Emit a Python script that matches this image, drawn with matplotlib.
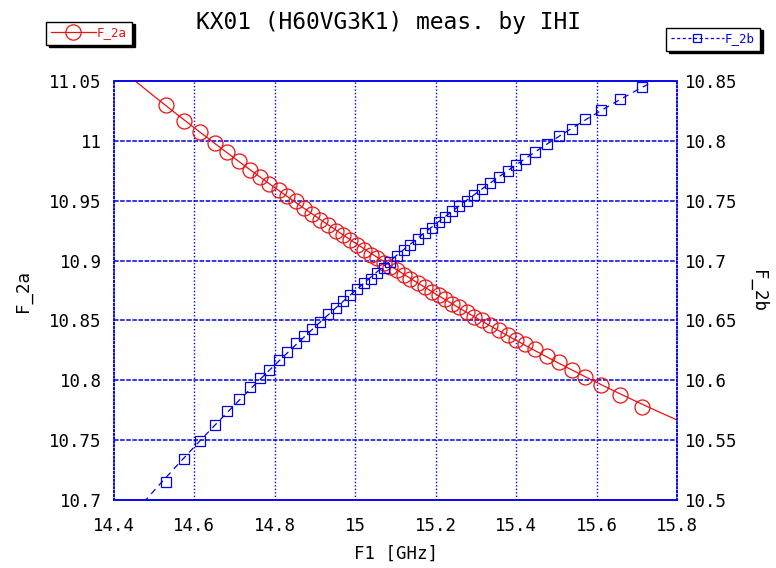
import numpy as np
import matplotlib
matplotlib.use("Agg")
import matplotlib.pyplot as plt

# ---- data -------------------------------------------------------------
f1 = [14.530, 14.575, 14.613, 14.650, 14.682, 14.711, 14.737, 14.762, 14.786, 14.810,
      14.830, 14.852, 14.872, 14.892, 14.912, 14.932, 14.951, 14.969, 14.987, 15.005,
      15.021, 15.038, 15.055, 15.071, 15.087, 15.103, 15.120, 15.137, 15.155, 15.173,
      15.190, 15.207, 15.223, 15.240, 15.258, 15.277, 15.296, 15.315, 15.335, 15.357,
      15.379, 15.400, 15.423, 15.448, 15.477, 15.507, 15.538, 15.572, 15.610, 15.658,
      15.713]

f2a = [11.030, 11.017, 11.007, 10.998, 10.991, 10.983, 10.976, 10.970, 10.964, 10.959,
       10.954, 10.950, 10.944, 10.939, 10.934, 10.930, 10.925, 10.921, 10.917, 10.913,
       10.909, 10.905, 10.902, 10.898, 10.895, 10.892, 10.888, 10.885, 10.881, 10.878,
       10.874, 10.871, 10.868, 10.864, 10.861, 10.857, 10.853, 10.850, 10.846, 10.842,
       10.838, 10.834, 10.830, 10.826, 10.820, 10.815, 10.809, 10.803, 10.796, 10.788,
       10.778]

f2b = [10.515, 10.534, 10.549, 10.563, 10.574, 10.584, 10.594, 10.602, 10.609, 10.617,
       10.624, 10.631, 10.637, 10.643, 10.649, 10.655, 10.660, 10.666, 10.671, 10.676,
       10.681, 10.685, 10.690, 10.694, 10.699, 10.704, 10.709, 10.713, 10.718, 10.723,
       10.727, 10.732, 10.736, 10.741, 10.746, 10.750, 10.755, 10.760, 10.765, 10.770,
       10.775, 10.780, 10.785, 10.791, 10.797, 10.804, 10.810, 10.818, 10.826, 10.835,
       10.845]

xticks = [14.4, 14.6, 14.8, 15.0, 15.2, 15.4, 15.6, 15.8]
xticklabels = ["14.4", "14.6", "14.8", "15", "15.2", "15.4", "15.6", "15.8"]
yticks_l = [10.7, 10.75, 10.8, 10.85, 10.9, 10.95, 11.0, 11.05]
yticklabels_l = ["10.7", "10.75", "10.8", "10.85", "10.9", "10.95", "11", "11.05"]
yticks_r = [10.5, 10.55, 10.6, 10.65, 10.7, 10.75, 10.8, 10.85]
yticklabels_r = ["10.5", "10.55", "10.6", "10.65", "10.7", "10.75", "10.8", "10.85"]

title = "KX01 (H60VG3K1) meas. by IHI"

# ---- style ------------------------------------------------------------
FONT = ["DejaVu Sans Mono"]
plt.rcParams["font.family"] = FONT
RED = "#ee1111"
BLUE = "#0000ee"

fig = plt.figure(figsize=(7.76, 5.68), dpi=100)
ax = fig.add_axes([114 / 776, 1 - 500 / 568, (677 - 114) / 776, (500 - 81) / 568])
ax2 = ax.twinx()

x = np.asarray(f1)
xs = np.linspace(14.4, 15.8, 300)
fit_a = np.polyval(np.polyfit(x, f2a, 2), xs)
fit_b = np.polyval(np.polyfit(x, f2b, 2), xs)

ax.plot(xs, fit_a, color=RED, lw=0.9, zorder=3)
ax.plot(x, f2a, ls="none", marker="o", ms=10.8, mfc="none", mec=RED, mew=0.9, zorder=4)
h_a, = ax.plot([], [], color=RED, lw=0.9, marker="o", ms=11, mfc="none", mec=RED, mew=0.9)

ax2.plot(xs, fit_b, color=BLUE, lw=0.9, ls=(0, (5, 4)), zorder=3)
ax2.plot(x, f2b, ls="none", marker="s", ms=7, mfc="none", mec=BLUE, mew=0.9, zorder=4)
h_b, = ax2.plot([], [], color=BLUE, lw=0.9, ls=(0, (2.5, 2)), marker="s", ms=6,
                mfc="none", mec=BLUE, mew=0.9)

ax.set_xlim(14.4, 15.8)
ax.set_ylim(10.7, 11.05)
ax2.set_ylim(10.5, 10.85)

ax.set_xticks(xticks)
ax.set_xticklabels(xticklabels)
ax.set_yticks(yticks_l)
ax.set_yticklabels(yticklabels_l)
ax2.set_yticks(yticks_r)
ax2.set_yticklabels(yticklabels_r)

ax.tick_params(axis="both", length=0, labelsize=12.5, colors="black")
ax.tick_params(axis="x", pad=12)
ax.tick_params(axis="y", pad=9)
ax2.tick_params(axis="y", length=0, labelsize=12.5, pad=6)

# grid
for yv in yticks_l[1:-1]:
    ax.axhline(yv, color=BLUE, lw=1.1, ls=(0, (3, 1)), zorder=1)
for xv in xticks[1:-1]:
    ax.axvline(xv, color=BLUE, lw=1.0, ls=(0, (1, 1.5)), zorder=1)

for a in (ax, ax2):
    for side in ("top", "bottom"):
        a.spines[side].set_color(BLUE)
        a.spines[side].set_linestyle((0, (3, 1)))
        a.spines[side].set_linewidth(1.1)
    for side in ("left", "right"):
        a.spines[side].set_color(BLUE)
        a.spines[side].set_linestyle((0, (1, 1.5)))
        a.spines[side].set_linewidth(1.1)

ax.set_xlabel("F1 [GHz]", fontsize=12.5, labelpad=7)
ax.set_ylabel("F_2a", fontsize=12.5, labelpad=12)
ax2.set_ylabel("F_2b", fontsize=12.5, labelpad=8, rotation=270, va="bottom")

fig.text(388 / 776, 1 - 23 / 568, title, fontsize=16.5, ha="center", va="center",
         family=FONT)

shadow = {"color": "black", "alpha": 1.0}
leg1 = fig.legend([h_a], ["F_2a"], loc="center", bbox_to_anchor=(89 / 776, 1 - 33 / 568),
                  frameon=True, fancybox=False, shadow=shadow, edgecolor="black",
                  fontsize=9, labelcolor=RED, handlelength=3.6, handletextpad=0.1,
                  borderpad=0.4, borderaxespad=0)
leg1.get_frame().set_linewidth(1.0)
leg2 = fig.legend([h_b], ["F_2b"], loc="center", bbox_to_anchor=(713 / 776, 1 - 39 / 568),
                  frameon=True, fancybox=False, shadow=shadow, edgecolor="black",
                  fontsize=9, labelcolor=BLUE, handlelength=4.2, handletextpad=0.1,
                  borderpad=0.4, borderaxespad=0)
leg2.get_frame().set_linewidth(1.0)

fig.savefig("out.png", dpi=100)
